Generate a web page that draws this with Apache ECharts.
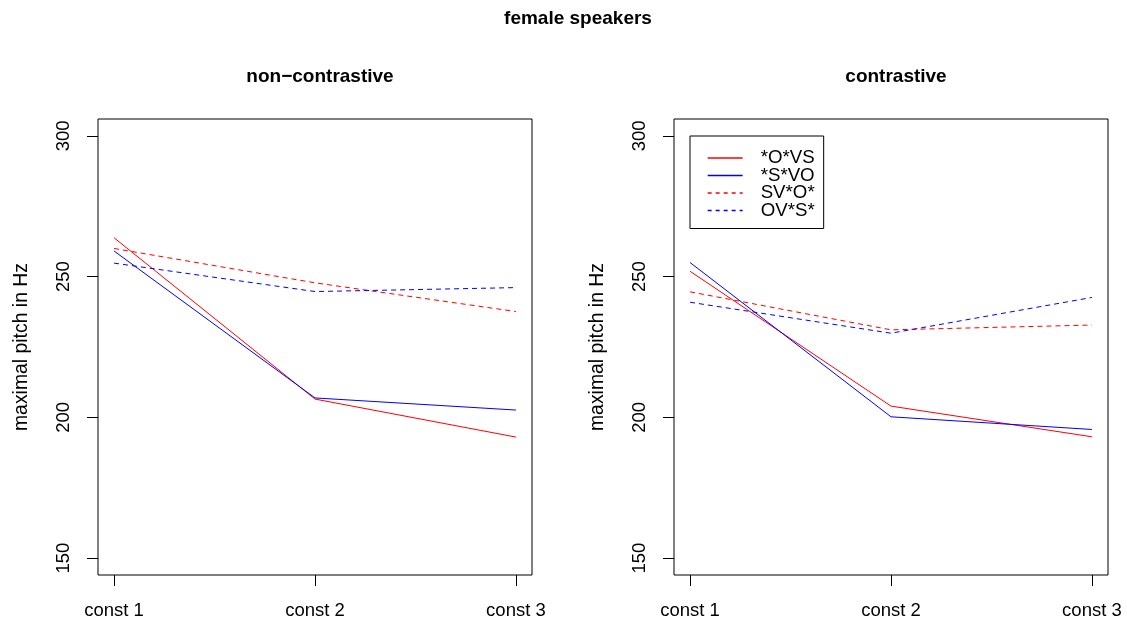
<!DOCTYPE html>
<html>
<head>
<meta charset="utf-8">
<script src="https://cdn.jsdelivr.net/npm/echarts@6/dist/echarts.min.js"></script>
<style>
html,body{margin:0;padding:0;background:#fff;}
#c{width:1127px;height:624px;}
</style>
</head>
<body>
<div id="c"></div>
<script>
// ---- data ----
var categories = ['const 1', 'const 2', 'const 3'];
var yTicks = [150, 200, 250, 300];
var seriesNames = ['*O*VS', '*S*VO', 'SV*O*', 'OV*S*'];
var panelTitles = ['non\u2212contrastive', 'contrastive'];
var mainTitle = 'female speakers';
var yAxisTitle = 'maximal pitch in Hz';

// non-contrastive panel
var ncOVS = [263.8, 206.5, 193.0];
var ncSVO = [259.1, 206.9, 202.6];
var ncSVO_ = [260.0, 247.8, 237.6];
var ncOVS_ = [254.8, 244.7, 246.1];
// contrastive panel
var cOVS = [251.9, 204.0, 193.1];
var cSVO = [255.0, 200.2, 195.7];
var cSVO_ = [244.6, 231.1, 232.8];
var cOVS_ = [240.9, 229.9, 242.6];

var panels = [
  [ncOVS, ncSVO, ncSVO_, ncOVS_],
  [cOVS, cSVO, cSVO_, cOVS_]
];
var colors = ['#ff0000', '#0000ff', '#ff0000', '#0000ff'];
var dashed = [false, false, true, true];

var FONT = '"Liberation Sans", Arial, Helvetica, sans-serif';
var xPos = categories.map(function (c, i) { return i + 1; });

var grids = [
  {left: 98, top: 119, width: 434, height: 456},
  {left: 674, top: 119, width: 434, height: 456}
];
grids.forEach(function (g) { g.show = true; g.borderColor = '#000'; g.borderWidth = 1; g.backgroundColor = 'transparent'; });

var xAxes = [], yAxes = [], series = [];
grids.forEach(function (g, gi) {
  xAxes.push({
    type: 'value', gridIndex: gi, min: 0.92, max: 3.08,
    splitLine: {show: false}, axisLine: {show: false},
    axisTick: {show: true, length: 11, customValues: xPos, lineStyle: {color: '#000', width: 1}},
    axisLabel: {show: true, customValues: xPos, margin: 26, color: '#000', fontSize: 18.5, fontFamily: FONT,
      formatter: function (v) { return categories[Math.round(v) - 1] || ''; }}
  });
  yAxes.push({
    type: 'value', gridIndex: gi, min: 144, max: 306,
    splitLine: {show: false}, axisLine: {show: false},
    axisTick: {show: true, length: 11, customValues: yTicks, lineStyle: {color: '#000', width: 1}},
    axisLabel: {show: true, customValues: yTicks, rotate: 90, margin: 25, color: '#000', fontSize: 18.5, fontFamily: FONT},
    name: yAxisTitle, nameLocation: 'middle', nameRotate: 90, nameGap: 67,
    nameTextStyle: {color: '#000', fontSize: 19.4, fontFamily: FONT}
  });
  panels[gi].forEach(function (vals, si) {
    series.push({
      type: 'line', name: seriesNames[si], xAxisIndex: gi, yAxisIndex: gi,
      data: vals.map(function (v, k) { return [xPos[k], v]; }),
      symbol: 'none', silent: true, animation: false,
      lineStyle: {color: colors[si], width: 1, type: dashed[si] ? [5, 4] : 'solid'},
      itemStyle: {color: colors[si]}
    });
  });
});

var legendData = seriesNames.map(function (n, i) {
  return {
    name: n,
    itemStyle: {opacity: 0},
    lineStyle: {color: colors[i], width: 1.3, type: dashed[i] ? [4, 4] : 'solid', opacity: 1}
  };
});

var chart = echarts.init(document.getElementById('c'), null, {renderer: 'canvas'});
chart.setOption({
  animation: false,
  backgroundColor: '#fff',
  title: [
    {text: mainTitle, left: 573, top: 4, textAlign: 'center', textStyle: {fontSize: 19, fontWeight: 'bold', color: '#000', fontFamily: FONT}},
    {text: panelTitles[0], left: 315, top: 62, textAlign: 'center', textStyle: {fontSize: 19, fontWeight: 'bold', color: '#000', fontFamily: FONT}},
    {text: panelTitles[1], left: 891, top: 62, textAlign: 'center', textStyle: {fontSize: 19, fontWeight: 'bold', color: '#000', fontFamily: FONT}}
  ],
  legend: {
    orient: 'vertical', left: 690, top: 136,
    data: legendData,
    padding: [12.5, 9, 8.5, 17],
    itemWidth: 35, itemHeight: 13, itemGap: -1.5,
    borderColor: '#000', borderWidth: 1, borderRadius: 0, backgroundColor: '#fff',
    selectedMode: false,
    textStyle: {fontSize: 18.7, color: '#000', fontFamily: FONT, padding: [0, 0, 0, 13]}
  },
  grid: grids,
  xAxis: xAxes,
  yAxis: yAxes,
  series: series
});
</script>
</body>
</html>
